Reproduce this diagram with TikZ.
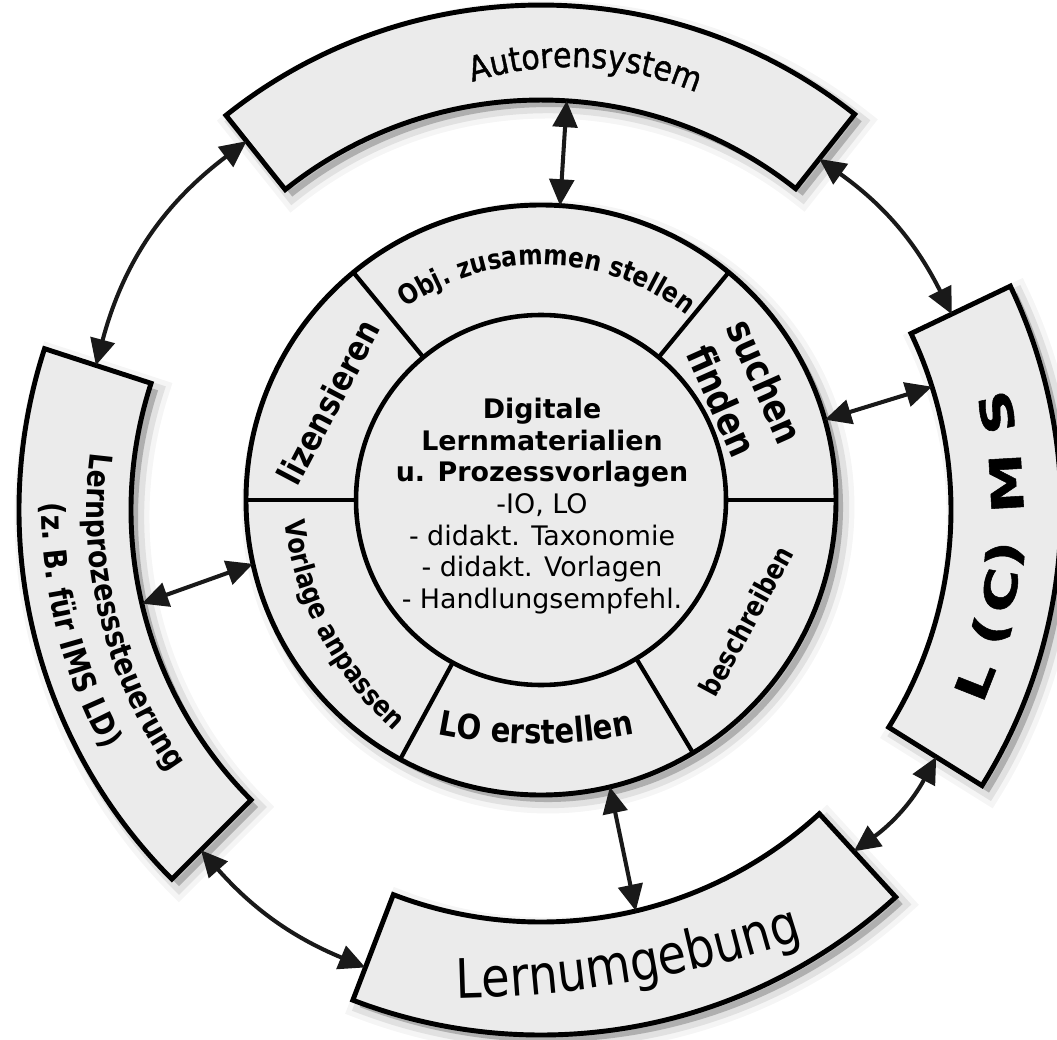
\documentclass[tikz,border=0pt]{standalone}
\usepackage{fontspec}
\setmainfont{DejaVu Sans}
% narrow, tall lettering for the segment captions
\newfontfamily\artfont[FakeStretch=0.85]{DejaVu Sans}
\newfontfamily\artmedium[FakeStretch=0.88,FakeBold=1.2]{DejaVu Sans}
% wide lettering for the L(C)MS caption
\newfontfamily\widefont[FakeStretch=1.38,FakeBold=1.2]{DejaVu Sans Bold}
\usetikzlibrary{calc,arrows.meta,decorations.text}
\begin{document}
\begin{tikzpicture}[x=0.02cm, y=0.02cm,
  paper/.style={fill=black!8},
  softshadow/.style={
    preaction={draw=black, line width=13pt, opacity=0.04, transform canvas={shift={(4pt,-4pt)}}},
    preaction={draw=black, line width=7pt, opacity=0.08, transform canvas={shift={(4pt,-4pt)}}},
    preaction={fill=black, opacity=0.22, transform canvas={shift={(4pt,-4pt)}}}},
  ringseg/.style={softshadow, paper, draw=black, line width=2.8pt, line join=miter},
  hub/.style={paper, draw=black, line width=2.6pt},
  divider/.style={draw=black, line width=2.4pt},
  link/.style={draw=black!90, line width=2.3pt,
    {Triangle[length=15pt,width=14pt]}-{Triangle[length=15pt,width=14pt]}},
  seglabel/.style={inner sep=0pt},
  lcms/.style={seglabel, font=\widefont\fontsize{25pt}{30pt}\selectfont},
]
\useasboundingbox (0,0) rectangle (1057,1039);
\fill[white] (0,0) rectangle (1057,1039);

% centres of the outer band and of the inner wheel
\coordinate (Co) at (541,529);
\coordinate (Ci) at (541,539);

% ---- outer band segments ----
% Autorensystem
\path[ringseg] ($(Co)+(51.6:505)$) arc[start angle=51.6, end angle=128.6, radius=505]
  -- ($(Co)+(128.6:410)$) arc[start angle=128.6, end angle=51.6, radius=410] -- cycle;
% L(C)MS
\path[ringseg] ($(Co)+(-32:520)$) arc[start angle=-32, end angle=25.5, radius=520]
  -- ($(Co)+(25.5:410)$) arc[start angle=25.5, end angle=-32, radius=410] -- cycle;
% Lernumgebung
\path[ringseg] ($(Co)+(249:525)$) arc[start angle=249, end angle=312.5, radius=525]
  -- ($(Co)+(312.5:412)$) arc[start angle=312.5, end angle=249, radius=412] -- cycle;
% Lernprozesssteuerung
\path[ringseg] ($(Co)+(162:522)$) arc[start angle=162, end angle=225, radius=522]
  -- ($(Co)+(225:410)$) arc[start angle=225, end angle=162, radius=410] -- cycle;

% ---- inner wheel ----
\path[ringseg] (Ci) circle[radius=295];
\foreach \a in {0,50.5,129.5,180,241.5,301}
  \draw[divider] ($(Ci)+(\a:185)$) -- ($(Ci)+(\a:295)$);
\path[hub] (Ci) circle[radius=185];

% ---- connector end points ----
\coordinate (aut-in) at ($(Co)+(86.4:410)$);
\coordinate (ring-top) at ($(Ci)+(86.3:295)$);
\coordinate (ring-right) at ($(Ci)+(15.8:295)$);
\coordinate (lms-in) at ($(Co)+(17.5:410)$);
\coordinate (ring-left) at ($(Ci)+(192.5:295)$);
\coordinate (lps-in) at ($(Co)+(193.2:410)$);
\coordinate (ring-bottom) at ($(Ci)+(283.5:295)$);
\coordinate (env-in) at ($(Co)+(283.3:412)$);
\coordinate (aut-west) at ($(Co)+(128.6:472)$);
\coordinate (lps-north) at ($(Co)+(162:468)$);
\coordinate (aut-east) at ($(Co)+(51.6:448)$);
\coordinate (lms-north) at ($(Co)+(25.5:455)$);
\coordinate (lms-south) at ($(Co)+(-32:466)$);
\coordinate (env-east) at ($(Co)+(-47.5:463)$);
\coordinate (lps-south) at ($(Co)+(225:481)$);
\coordinate (env-west) at ($(Co)+(249:490)$);

% ---- connectors ----
\draw[link] (aut-in) -- (ring-top);
\draw[link] (ring-right) -- (lms-in);
\draw[link] (ring-left) -- (lps-in);
\draw[link] (ring-bottom) -- (env-in);
\draw[link] (aut-west) to[bend right=19] (lps-north);
\draw[link] (aut-east) to[bend left=14] (lms-north);
\draw[link] (lms-south) to[bend left=13] (env-east);
\draw[link] (lps-south) to[bend right=13] (env-west);

% ---- centre text ----
\node[seglabel, align=center, font=\fontsize{15.3pt}{18pt}\selectfont] (core) at (542,533)
  {\textbf{Digitale}\\\textbf{Lernmaterialien}\\\textbf{u. Prozessvorlagen}\\-IO, LO\\- didakt. Taxonomie\\- didakt. Vorlagen\\- Handlungsempfehl.};

% ---- inner wheel labels ----
\path[decorate, decoration={text along path, text align=center,
  text={|\artfont\bfseries\fontsize{15.7pt}{18pt}\selectfont|Obj. zusammen stellen}}]
  ($(Ci)+(138.5:235)$) arc[start angle=138.5, end angle=38.5, radius=235];
\node[seglabel, rotate=62.2, font=\artfont\bfseries\fontsize{19.5pt}{22pt}\selectfont] (lic) at (328.5,637) {lizensieren};
\node[seglabel, rotate=-66, align=center, font=\artfont\bfseries\fontsize{22pt}{27pt}\selectfont] (find) at (744,648) {suchen\\finden};
\node[seglabel, rotate=61.6, font=\artfont\bfseries\fontsize{16pt}{19pt}\selectfont] (desc) at (746,418) {beschreiben};
\coordinate (Va) at (620,559);
\path[decorate, decoration={text along path, text align=center,
  text={|\artfont\bfseries\fontsize{16.1pt}{19pt}\selectfont|Vorlage anpassen}}]
  ($(Va)+(172.5:338)$) arc[start angle=172.5, end angle=242.5, radius=338];
\coordinate (Le) at (536,795);
\path[decorate, decoration={text along path, text align=center,
  text={|\artfont\bfseries\fontsize{19.5pt}{22pt}\selectfont|LO erstellen}}]
  ($(Le)+(250:500)$) arc[start angle=250, end angle=290, radius=500];

% ---- outer band labels ----
\coordinate (At) at (570,647);
\path[decorate, decoration={text along path, text align=center,
  text={|\artmedium\fontsize{19.5pt}{22pt}\selectfont|Autorensystem}}]
  ($(At)+(127.3:325)$) arc[start angle=127.3, end angle=47.3, radius=325];
\coordinate (Lu) at (432,1240);
\path[decorate, decoration={text along path, text align=center,
  text={|\artfont\fontsize{31pt}{36pt}\selectfont|Lernumgebung}}]
  ($(Lu)+(265.6:1200)$) arc[start angle=265.6, end angle=293.6, radius=1200];
\path[decorate, decoration={text along path, text align=center,
  text={|\artfont\bfseries\fontsize{17.9pt}{21pt}\selectfont|Lernprozesssteuerung}}]
  ($(Co)+(159:454)$) arc[start angle=159, end angle=229, radius=454];
\path[decorate, decoration={text along path, text align=center,
  text={|\artfont\bfseries\fontsize{18pt}{21pt}\selectfont|(z. B. für IMS LD)}}]
  ($(Co)+(159:499)$) arc[start angle=159, end angle=229, radius=499];

% L(C)MS, letter by letter along the right segment
\node[lcms, rotate=68.5] (lcms-1) at ($(Co)+(-21.5:466)$) {L};
\node[lcms, rotate=74.9] (lcms-2) at ($(Co)+(-15.1:466)$) {(};
\node[lcms, rotate=80.1] (lcms-3) at ($(Co)+(-9.9:466)$) {C};
\node[lcms, rotate=84.5] (lcms-4) at ($(Co)+(-5.5:466)$) {)};
\node[lcms, rotate=93.3] (lcms-5) at ($(Co)+(3.3:466)$) {M};
\node[lcms, rotate=102.1] (lcms-6) at ($(Co)+(12.1:466)$) {S};
\end{tikzpicture}
\end{document}
